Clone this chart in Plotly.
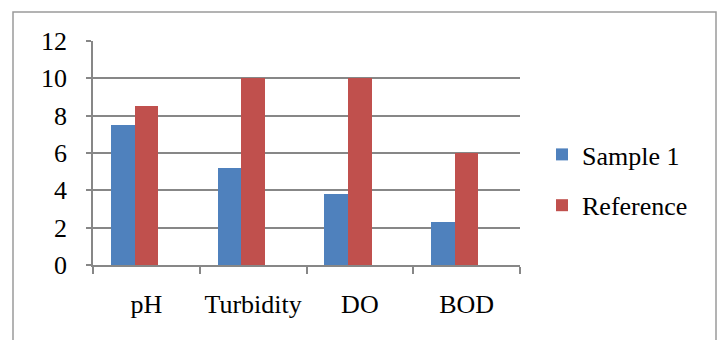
import plotly.graph_objects as go

# Water-quality parameters compared against reference values
categories = ["pH", "Turbidity", "DO", "BOD"]
sample_1 = [7.5, 5.2, 3.8, 2.3]
reference = [8.5, 10, 10, 6]
y_ticks = [0, 2, 4, 6, 8, 10, 12]

BLUE = "#4F81BD"
RED = "#C0504D"
GRID = "#878787"


def serif(size=26):
    return dict(family="Liberation Serif", size=size, color="#000000")


W, H = 719, 340
L, R, T, B = 93, 199, 41, 75
PW, PH = W - L - R, H - T - B

# Excel-style clustered layout: three slots per category with 150% gap width
slot = 1 / 4.5

fig = go.Figure()
fig.add_trace(go.Bar(
    x=categories, y=sample_1, name="Sample 1",
    marker=dict(color=BLUE, line=dict(width=0)),
    width=slot, offset=-1.5 * slot, legendgroup="a",
))
fig.add_trace(go.Bar(
    x=categories, y=reference, name="Reference",
    marker=dict(color=RED, line=dict(width=0)),
    width=slot, offset=-0.5 * slot, legendgroup="b",
))


def px_x(p):
    return (p - L) / PW


def px_y(p):
    return (H - B - p) / PH


# outer chart frame
fig.add_shape(
    type="rect", xref="paper", yref="paper",
    x0=px_x(13), x1=px_x(716), y0=px_y(360), y1=px_y(12),
    line=dict(color="#9A9A9A", width=1.5), fillcolor="rgba(0,0,0,0)",
    layer="below",
)

fig.update_layout(
    width=W, height=H,
    margin=dict(l=L, r=R, t=T, b=B, pad=0, autoexpand=False),
    paper_bgcolor="white", plot_bgcolor="white",
    font=serif(),
    bargap=0, bargroupgap=0,
    showlegend=True,
    legend=dict(
        x=px_x(542), y=px_y(180), xanchor="left", yanchor="middle",
        font=serif(), bgcolor="rgba(0,0,0,0)",
        tracegroupgap=14, traceorder="grouped",
        itemwidth=30,
    ),
    xaxis=dict(
        type="category", range=[-0.5, 3.5],
        showgrid=False, showline=True, linecolor=GRID, linewidth=1.5,
        ticks="outside", ticklen=7, tickcolor=GRID, tickwidth=1.5,
        tickson="boundaries", ticklabelstandoff=15, tickangle=0,
        automargin=False,
        tickfont=serif(),
    ),
    yaxis=dict(
        range=[0, 12], tickvals=y_ticks,
        showgrid=True, gridcolor=GRID, gridwidth=1.5,
        showline=True, linecolor=GRID, linewidth=1.5,
        ticks="outside", ticklen=5, tickcolor=GRID, tickwidth=1.5,
        ticklabelstandoff=14, zeroline=False, automargin=False,
        tickfont=serif(),
    ),
)

fig.write_html("out.html")
